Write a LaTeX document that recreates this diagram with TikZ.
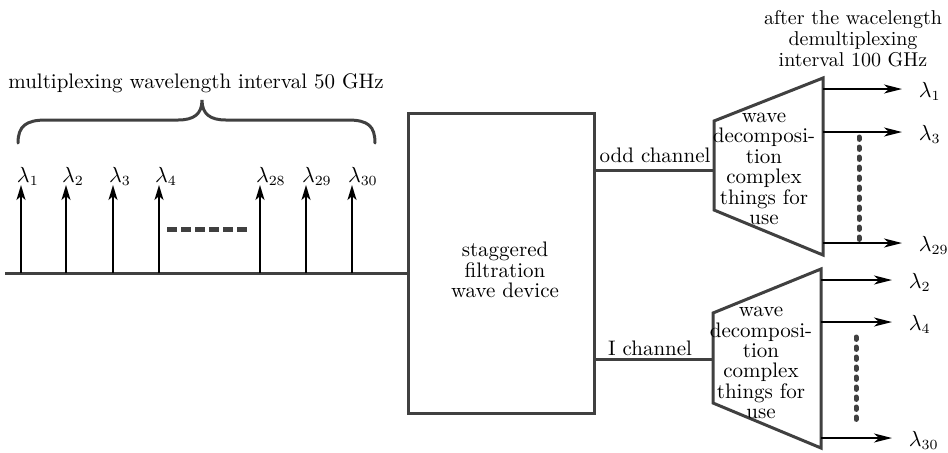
\documentclass[tikz,border=0pt]{standalone}
\usetikzlibrary{arrows.meta,positioning}

\colorlet{linegray}{black!75}

\begin{document}
\begin{tikzpicture}[x=0.5pt, y=-0.5pt,
  wire/.style={line width=1.5pt, linegray},
  sig/.style={line width=1pt, -{Stealth[length=7.5pt, width=4.5pt, inset=2pt]}},
  outsig/.style={line width=0.8pt, -{Stealth[length=9pt, width=4.5pt, inset=2.5pt]}},
  lam/.style={anchor=base west, inner sep=0pt, xshift=-2.5pt, yshift=1.5pt, font=\fontsize{10.5}{12}\selectfont},
  outlam/.style={anchor=base west, inner sep=0pt, xshift=8pt, yshift=-4pt, font=\fontsize{10.5}{12}\selectfont},
  dots/.style={linegray, line width=2.5pt, line cap=round, dash pattern=on 1.2pt off 3.8pt},
  txt/.style={align=center, inner sep=0pt, font=\fontsize{10.5}{10.2}\selectfont}]

  \useasboundingbox (0,0) rectangle (948,452);

  % Filter box and the common input line
  \node[draw=linegray, line width=1.5pt, minimum width=93pt, minimum height=150pt]
    (filter) at (501,263) {};
  \node[txt] (filterlabel) at (505,270) {staggered\\filtration\\wave device};
  \coordinate (in) at (5,273);
  \draw[wire] (in) -- (filter.west |- in);

  % Input wavelengths
  \draw[sig] (21,273)  -- (21,185)  node[lam] (l1)  {$\lambda_{1}$};
  \draw[sig] (66,273)  -- (66,185)  node[lam] (l2)  {$\lambda_{2}$};
  \draw[sig] (113,273) -- (113,185) node[lam] (l3)  {$\lambda_{3}$};
  \draw[sig] (159,273) -- (159,185) node[lam] (l4)  {$\lambda_{4}$};
  \draw[sig] (260,273) -- (260,185) node[lam] (l28) {$\lambda_{28}$};
  \draw[sig] (306,273) -- (306,185) node[lam] (l29) {$\lambda_{29}$};
  \draw[sig] (352,273) -- (352,185) node[lam] (l30) {$\lambda_{30}$};

  \draw[linegray, line width=2.5pt, dash pattern=on 5pt off 2pt] (167,229) -- (250,229);

  % Brace over the inputs
  \draw[wire, line cap=round]
    (18,143) .. controls (18,126) and (26,120) .. (46,120) -- (178,120)
    .. controls (194,120) and (202,114) .. (202,100)
    .. controls (202,114) and (210,120) .. (226,120) -- (348,120)
    .. controls (368,120) and (375,126) .. (375,143);
  \node[txt] (title) at (196,83) {multiplexing wavelength interval 50 GHz};

  % Odd channel
  \coordinate (oddin) at (714,170);
  \draw[wire] (filter.east |- oddin) -- (oddin);
  \node[txt] (oddlabel) at (655,155) {odd channel};
  \draw[wire, line join=miter] (714,121) -- (823,78) -- (823,255) -- (714,210) -- cycle;
  \node[txt] (odddemux) at (764,169) {wave\\decomposi-\\tion\\complex\\things for\\use};

  \draw[outsig] (823,89)  -- (902,89)  node[outlam] (o1)  {$\lambda_{1}$};
  \draw[outsig] (823,132) -- (902,132) node[outlam] (o3)  {$\lambda_{3}$};
  \draw[outsig] (823,243) -- (902,243) node[outlam] (o29) {$\lambda_{29}$};
  \draw[dots] (859,137) -- (859,243);

  % I channel
  \coordinate (evenin) at (713,359);
  \draw[wire] (filter.east |- evenin) -- (evenin);
  \node[txt] (evenlabel) at (650,348) {I channel};
  \draw[wire, line join=miter] (713,313) -- (821,269) -- (821,448) -- (713,403) -- cycle;
  \node[txt] (evendemux) at (761,363) {wave\\decomposi-\\tion\\complex\\things for\\use};

  \draw[outsig] (821,280) -- (892,280) node[outlam] (o2)  {$\lambda_{2}$};
  \draw[outsig] (821,322) -- (892,322) node[outlam] (o4)  {$\lambda_{4}$};
  \draw[outsig] (821,438) -- (892,438) node[outlam] (o30) {$\lambda_{30}$};
  \draw[dots] (856,337) -- (856,426);

  \node[txt, font=\fontsize{10}{10.5}\selectfont] (header) at (853,39)
    {after the wacelength\\demultiplexing\\interval 100 GHz};

\end{tikzpicture}
\end{document}
